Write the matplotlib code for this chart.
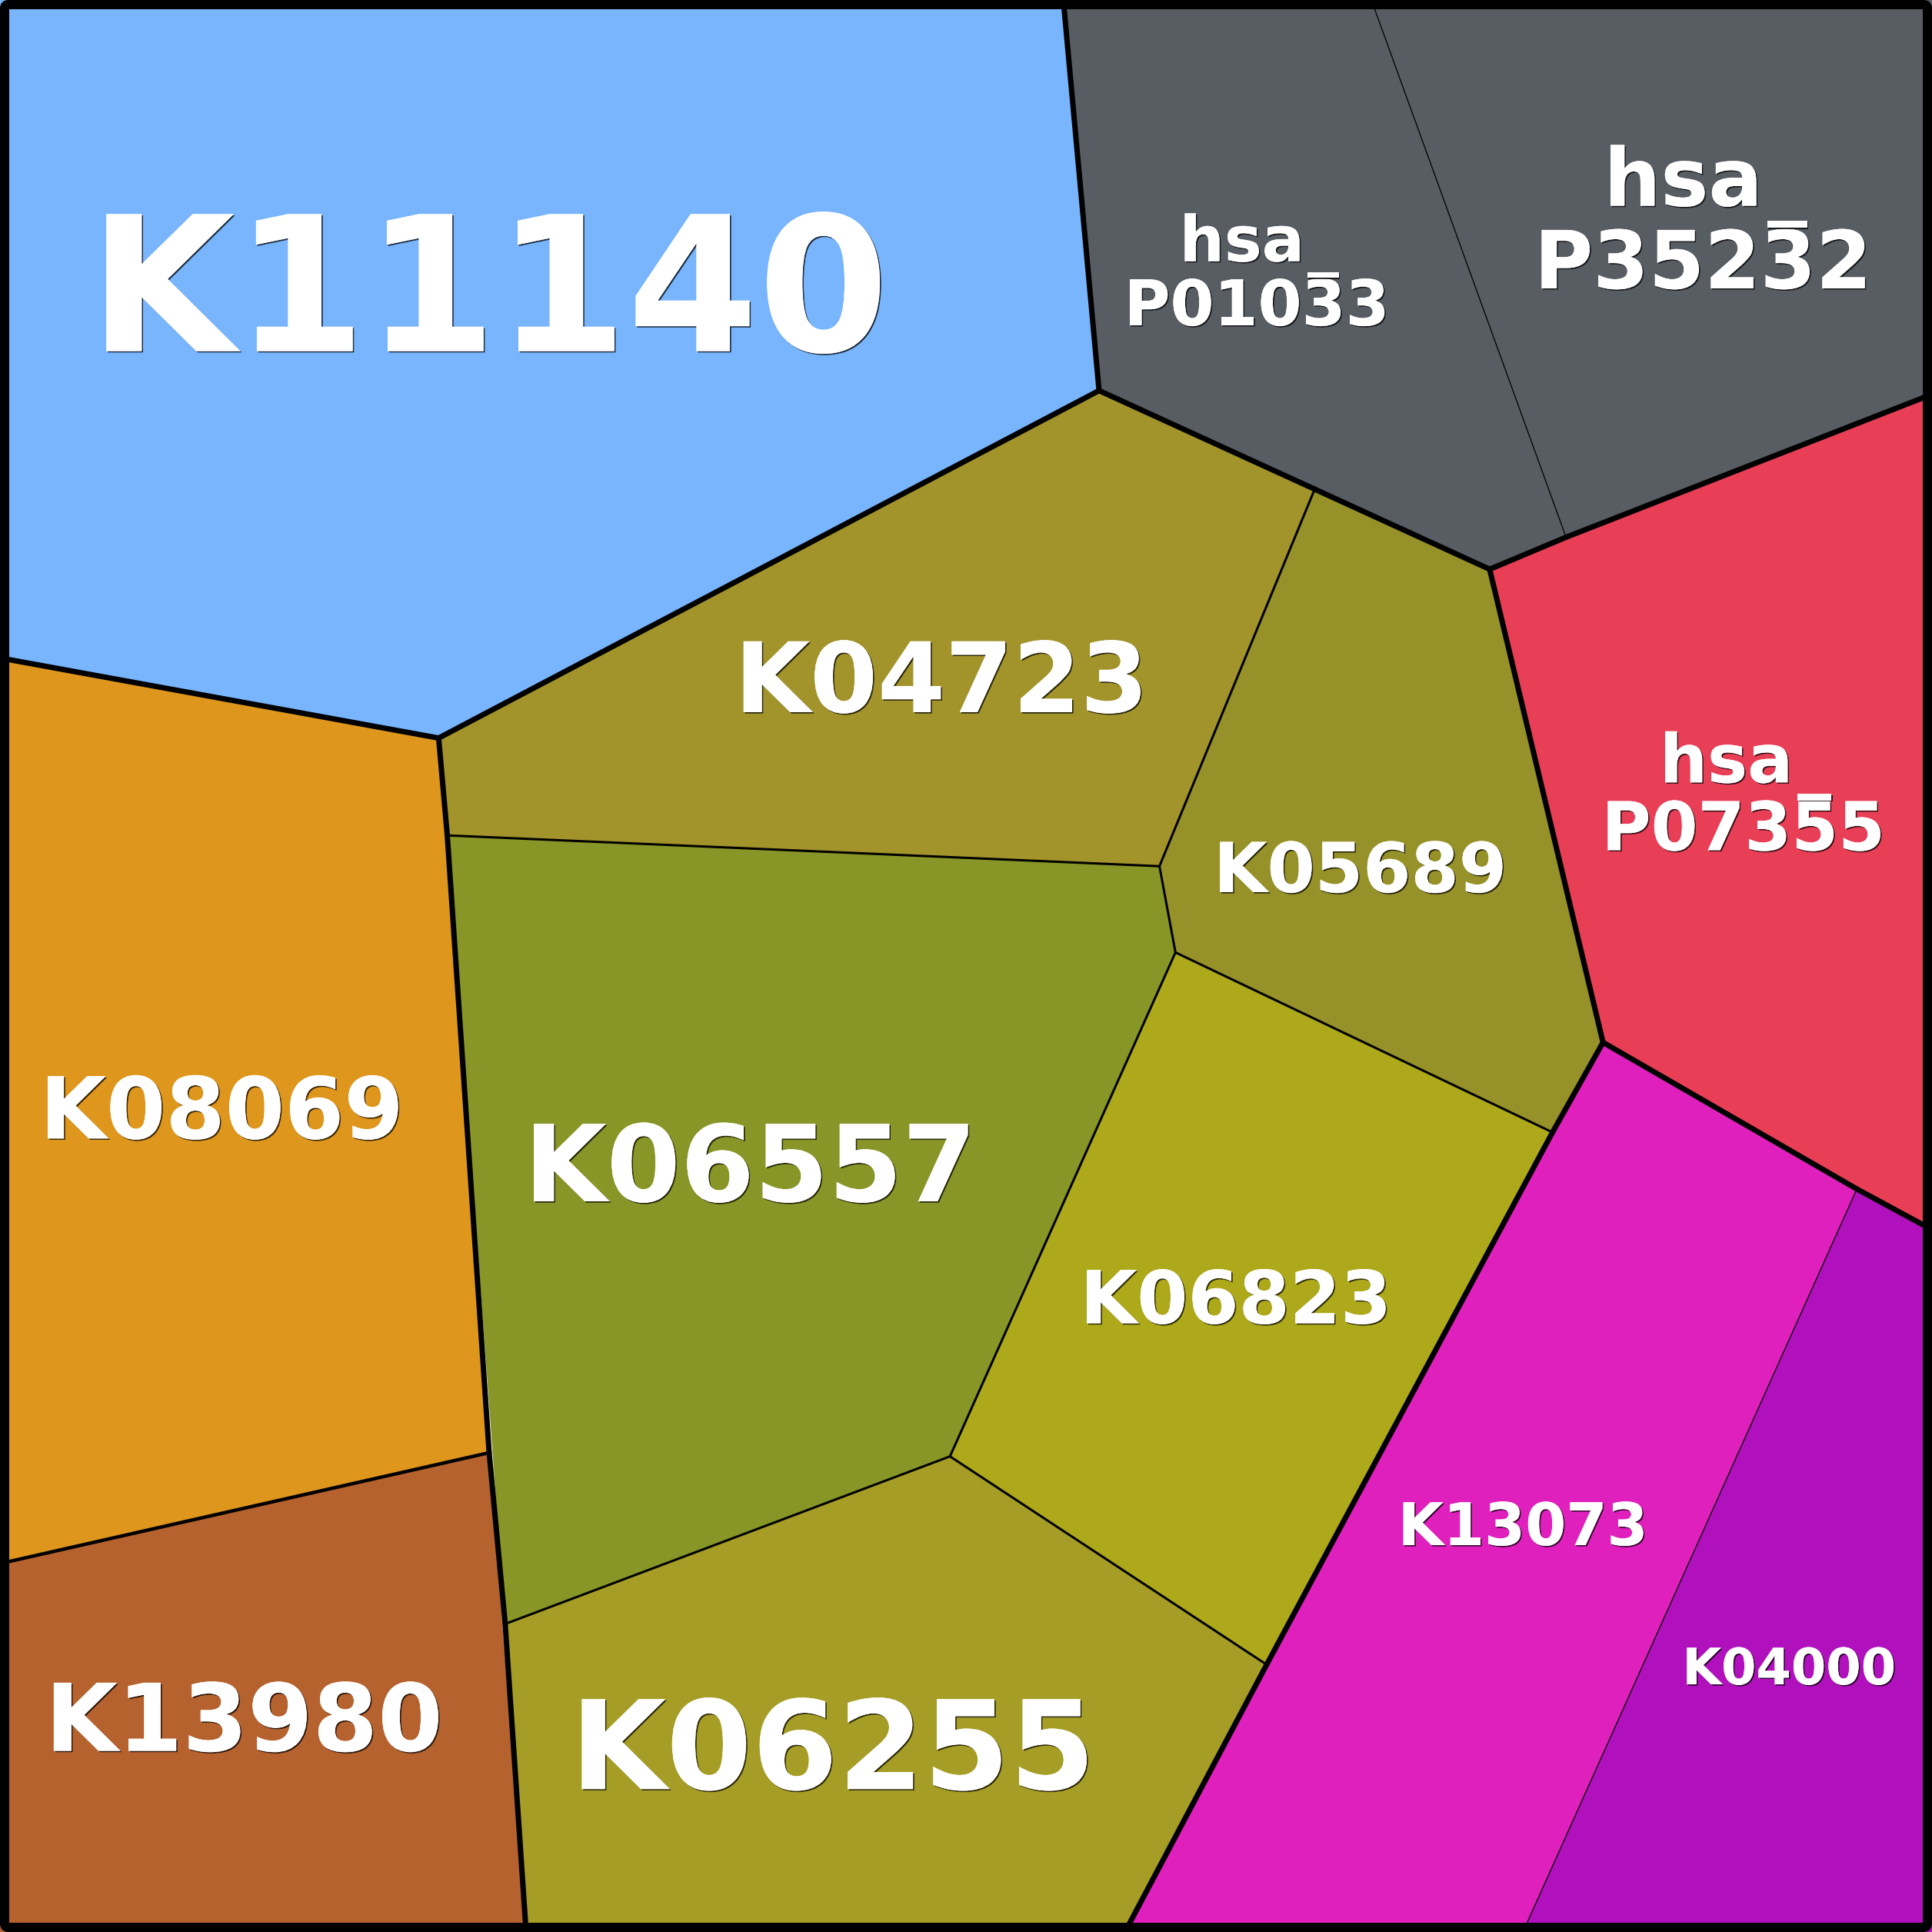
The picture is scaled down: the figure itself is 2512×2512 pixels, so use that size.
import matplotlib
matplotlib.use("Agg")
import matplotlib.pyplot as plt
from matplotlib.patches import Polygon, FancyBboxPatch
from matplotlib.textpath import TextPath
from matplotlib.font_manager import FontProperties
import matplotlib.patheffects as pe

# ---- data (coordinates in a 1568 x 1568 layout space, y downward) ----
vertices = {
    "TL": (0, 0), "TR": (1568, 0), "BL": (0, 1568), "BR": (1568, 1568),
    "A": (863, 0), "B": (892, 317), "C": (356, 599), "D": (0, 534),
    "E": (1113, 0), "F": (1271, 436), "G": (1209, 462), "H": (1568, 320),
    "I": (1067, 397), "J": (941, 703), "K": (363, 678), "L": (954, 773),
    "M": (1301, 846), "N": (1260, 919), "O": (1568, 998), "P": (1507, 965),
    "Q": (1236, 1568), "R": (771, 1182), "S": (410, 1318), "T": (1028, 1351),
    "U": (913, 1568), "V": (427, 1568), "W": (397, 1179), "X": (0, 1269),
}

cell_names = ["K11140", "hsa P01033", "hsa P35232", "hsa P07355",
              "K04723", "K05689", "K06557", "K06823", "K08069", "K13980",
              "K06255", "K13073", "K04000"]

cell_vertices = [
    ["TL", "A", "B", "C", "D"],
    ["A", "E", "F", "G", "B"],
    ["E", "TR", "H", "F"],
    ["G", "H", "O", "M"],
    ["B", "I", "J", "K", "C"],
    ["I", "G", "M", "N", "L", "J"],
    ["K", "J", "L", "R", "S"],
    ["L", "N", "T", "R"],
    ["D", "C", "W", "X"],
    ["X", "W", "V", "BL"],
    ["S", "R", "T", "U", "V"],
    ["M", "P", "Q", "U"],
    ["P", "O", "BR", "Q"],
]

cell_colors = ["#78b5fd", "#585d63", "#585d63", "#e83f57",
               "#a2932b", "#969128", "#879626", "#aea81b", "#de961c", "#b6622f",
               "#a69d26", "#e020bd", "#b111bd"]

# label lines: text, anchor x, baseline y, font size (pt), index of overlined char (or None)
label_lines = [
    [("K11140", 397, 285, 176, None)],
    [("hsa", 1008, 212, 59, None), ("P01033", 1020, 264, 59, 4)],
    [("hsa", 1366, 167, 75, None), ("P35232", 1382, 234, 75, 4)],
    [("hsa", 1401, 635, 63, None), ("P07355", 1415, 690, 63, 4)],
    [("K04723", 764, 578, 91, None)],
    [("K05689", 1104, 724, 64.5, None)],
    [("K06557", 609, 975, 99.5, None)],
    [("K06823", 1003, 1074, 68.5, None)],
    [("K08069", 180, 924, 80, None)],
    [("K13980", 198, 1421, 87.5, None)],
    [("K06255", 676, 1452, 115.5, None)],
    [("K13073", 1236, 1254, 55, None)],
    [("K04000", 1452, 1367, 47, None)],
]

# boundary edges by hierarchy level (line width in px of the 2512 output)
edges_thick = [("A", "B"), ("B", "C"), ("C", "D"), ("B", "I"), ("I", "G"), ("G", "F"),
               ("F", "H"), ("G", "M"), ("M", "P"), ("P", "O"), ("M", "N"), ("N", "T"),
               ("T", "U"), ("C", "K"), ("K", "W"), ("W", "S"), ("S", "V")]
edges_medium = [("W", "X")]
edges_olive = [("I", "J"), ("J", "K"), ("J", "L"), ("L", "N"), ("L", "R"),
               ("R", "S"), ("R", "T")]
edges_thin = [("E", "F"), ("P", "Q")]

# ---- drawing ----
DPI = 100
fig = plt.figure(figsize=(25.12, 25.12), dpi=DPI, facecolor="white")
ax = fig.add_axes([0, 0, 1, 1])
ax.set_xlim(0, 1568)
ax.set_ylim(1568, 0)
ax.axis("off")

px = 72.0 / DPI  # points per output pixel

for verts, col in zip(cell_vertices, cell_colors):
    ax.add_patch(Polygon([vertices[v] for v in verts], closed=True,
                         facecolor=col, edgecolor="none", zorder=1))

def draw_edges(edges, width_px, z):
    for a, b in edges:
        (x0, y0), (x1, y1) = vertices[a], vertices[b]
        ax.plot([x0, x1], [y0, y1], color="black", lw=width_px * px,
                solid_capstyle="round", zorder=z)

draw_edges(edges_thin, 1.3, 2)
draw_edges(edges_olive, 3.0, 3)
draw_edges(edges_medium, 4.5, 4)
draw_edges(edges_thick, 7.0, 5)

# outer frame
frame = FancyBboxPatch((3.75, 3.75), 1568 - 7.5, 1568 - 7.5,
                       boxstyle="round,pad=0,rounding_size=3",
                       facecolor="none", edgecolor="black", lw=12 * px, zorder=6)
ax.add_patch(frame)

fp = FontProperties(family="DejaVu Sans", weight="bold")

def ext(s, fs):
    return TextPath((0, 0), s, size=fs, prop=fp).get_extents()

shadow = [pe.withSimplePatchShadow(offset=(1.2, -1.2), shadow_rgbFace="black", alpha=0.75),
          pe.Normal()]
BAR = "\u203e"
for lines in label_lines:
    for txt, x, y, fs, ov in lines:
        ax.text(x, y, txt, ha="center", va="baseline", color="white",
                fontsize=fs, fontproperties=fp, path_effects=shadow, zorder=7)
        if ov is not None:
            full = ext(txt, fs)
            pre = ext(txt[:ov + 1], fs)
            ch = ext(txt[ov], fs)
            bar = ext(BAR, fs)
            dx = (pre.x1 - ch.width / 2.0) - (full.x0 + full.x1) / 2.0
            dy = ch.y1 + 0.012 * fs - bar.y0
            ax.annotate(BAR, xy=(x, y), xytext=(dx, dy), textcoords="offset points",
                        ha="center", va="baseline", color="white", fontsize=fs,
                        fontproperties=fp, path_effects=shadow, zorder=7)

fig.savefig("out.png", dpi=DPI, facecolor="white")
